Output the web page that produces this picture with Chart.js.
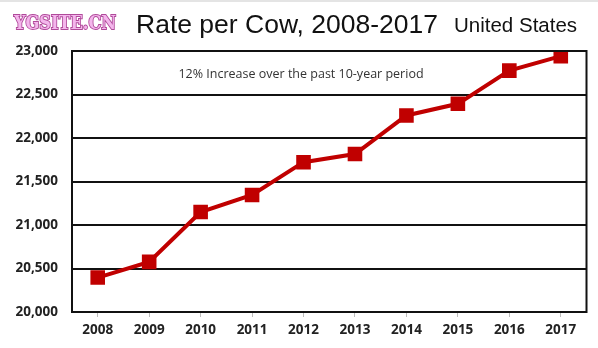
<!DOCTYPE html>
<html lang="en">
<head>
    <meta charset="UTF-8">
    <title>Rate per Cow, 2008-2017</title>
    <script src="https://cdn.jsdelivr.net/npm/chart.js"></script>
    <style>
        html, body { margin: 0; padding: 0; background: #fff; }
        .wrap { width: 598px; height: 348px; position: relative; }
    </style>
</head>
<body>
    <div class="wrap">
        <canvas id="cowChart" width="598" height="348"></canvas>
    </div>

    <script>
        // data
        const years = ['2008', '2009', '2010', '2011', '2012', '2013', '2014', '2015', '2016', '2017'];
        const milkPerCow = [20396, 20576, 21149, 21345, 21722, 21816, 22259, 22393, 22774, 22941];
        const yMin = 20000;
        const yMax = 23000;
        const yStep = 500;

        // titles, watermark, note and frame
        const decorPlugin = {
            id: 'decor',
            beforeDraw(chart) {
                const ctx = chart.ctx;
                ctx.save();
                ctx.fillStyle = '#fff';
                ctx.fillRect(0, 0, chart.width, chart.height);
                ctx.fillStyle = '#e4e4e4';
                ctx.fillRect(0, 0, chart.width, 2);
                ctx.restore();
            },
            afterDraw(chart) {
                const ctx = chart.ctx;
                const a = chart.chartArea;
                ctx.save();
                // frame
                ctx.strokeStyle = '#111';
                ctx.lineWidth = 2;
                ctx.strokeRect(a.left, a.top, a.right - a.left, a.bottom - a.top);

                // watermark (squeezed a bit)
                ctx.save();
                ctx.translate(14, 29);
                ctx.scale(0.85, 1);
                ctx.font = 'bold 19px "DejaVu Serif", serif';
                ctx.textBaseline = 'alphabetic';
                ctx.textAlign = 'left';
                ctx.lineWidth = 2;
                ctx.strokeStyle = '#b04a9a';
                ctx.strokeText('YGSITE.CN', 0, 0);
                ctx.fillStyle = '#f4b6ec';
                ctx.fillText('YGSITE.CN', 0, 0);
                ctx.restore();

                // title
                ctx.fillStyle = '#111';
                ctx.textAlign = 'left';
                ctx.font = '26.5px "Liberation Sans", Arial, sans-serif';
                ctx.fillText('Rate per Cow, 2008-2017', 136, 33);
                ctx.font = '20.5px "Liberation Sans", Arial, sans-serif';
                ctx.fillText('United States', 454, 32);

                // note
                ctx.font = '12.5px "Open Sans", sans-serif';
                ctx.fillStyle = '#333';
                ctx.textAlign = 'center';
                ctx.fillText('12% Increase over the past 10-year period', 301, 78);
                ctx.restore();
            }
        };

        const ctx = document.getElementById('cowChart').getContext('2d');
        new Chart(ctx, {
            type: 'line',
            data: {
                labels: years,
                datasets: [{
                    data: milkPerCow,
                    borderColor: '#c00000',
                    backgroundColor: '#c00000',
                    borderWidth: 4,
                    pointStyle: 'rect',
                    pointRadius: 7.5,
                    pointHoverRadius: 7.5,
                    tension: 0,
                    fill: false
                }]
            },
            options: {
                responsive: false,
                animation: false,
                devicePixelRatio: 1,
                layout: { padding: { left: 0, right: 11, top: 51, bottom: 0 } },
                plugins: {
                    legend: { display: false },
                    tooltip: { enabled: false }
                },
                scales: {
                    x: {
                        offset: true,
                        afterFit(scale) { scale.height = 36; },
                        grid: {
                            display: true,
                            drawOnChartArea: false,
                            drawTicks: true,
                            tickLength: 5,
                            color: '#bbb',
                            offset: false
                        },
                        border: { display: true, color: '#111', width: 2 },
                        ticks: {
                            color: '#222',
                            padding: 5,
                            font: { family: '"Open Sans", sans-serif', size: 13.5, weight: 'bold' }
                        }
                    },
                    y: {
                        min: yMin,
                        max: yMax,
                        afterFit(scale) { scale.width = 72; },
                        grid: {
                            color: '#111',
                            lineWidth: 2,
                            drawTicks: false
                        },
                        border: { display: true, color: '#111', width: 2 },
                        ticks: {
                            stepSize: yStep,
                            color: '#222',
                            padding: 14,
                            font: { family: '"Open Sans", sans-serif', size: 13.5, weight: 'bold' },
                            callback: v => v.toLocaleString('en-US')
                        }
                    }
                }
            },
            plugins: [decorPlugin]
        });
    </script>
</body>
</html>
